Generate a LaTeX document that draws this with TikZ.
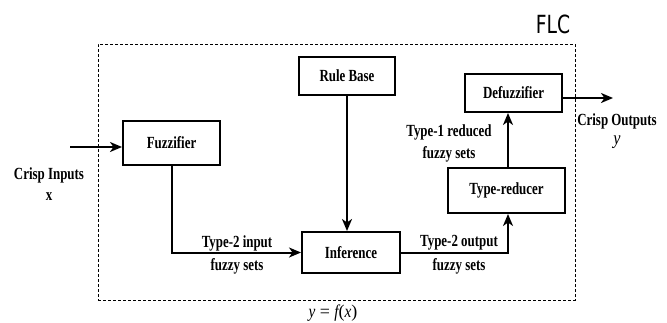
\documentclass[tikz,border=0pt]{standalone}
\usepackage{fontspec}
\setmainfont{Liberation Serif}
\newfontfamily\condbf[FakeStretch=0.76]{Liberation Serif Bold}
\newfontfamily\condit[FakeStretch=0.85]{Liberation Serif Italic}
\newfontfamily\flcfont[FakeStretch=0.75]{DejaVu Sans}
\usetikzlibrary{arrows.meta,calc}
\begin{document}
\begin{tikzpicture}[x=1pt,y=-1pt,
  blk/.style={draw, line width=2pt, minimum width=#1, inner sep=0pt, font=\condbf\fontsize{17}{17}\selectfont},
  conn/.style={line width=2pt, -{Stealth[length=12pt,width=10pt,inset=3.5pt]}},
  lbl/.style={font=\condbf\fontsize{17}{17}\selectfont, align=center, inner sep=0pt}]
\useasboundingbox (0,0) rectangle (667,322);
\node[draw, line width=0.9pt, dash pattern=on 3pt off 2pt, minimum width=477pt, minimum height=256pt, inner sep=0pt] (flcbox) at (336.5,172) {};
\node[font=\flcfont\fontsize{25}{25}\selectfont, inner sep=0pt] (flc) at (553,24) {FLC};
\node[blk=97pt, minimum height=44pt] (fuzz) at (171.5,143) {Fuzzifier};
\node[blk=96pt, minimum height=38pt] (rule) at (347,76) {Rule Base};
\node[blk=98pt, minimum height=41pt] (inf) at (351,252.5) {Inference};
\node[blk=97pt, minimum height=38pt] (defuzz) at (513.5,93) {Defuzzifier};
\node[blk=117pt, minimum height=45pt] (tr) at (506.5,190.5) {Type-reducer};
\coordinate (in) at (70,147);
\coordinate (out) at (613,98);
\draw[conn] (in) -- (in -| fuzz.west);
\draw[conn] (fuzz.south) |- (inf.west);
\draw[conn] (rule.south) -- (rule.south |- inf.north);
\draw[conn] (inf.east) -| ($(tr.south)+(1.5,0)$);
\draw[conn] ($(tr.north)+(1.5,0)$) -- ($(tr.north |- defuzz.south)+(1.5,0)$);
\draw[conn] (defuzz.east |- out) -- (out);
\node[lbl] (cin) at (49,175) {Crisp Inputs};
\node[lbl] (cinx) at (49,197) {x};
\node[lbl] (cout) at (617,121) {Crisp Outputs};
\node[inner sep=0pt, font=\condit\fontsize{19}{19}\selectfont] (couty) at (617,142) {y};
\node[lbl] (l1a) at (237,243) {Type-2 input};
\node[lbl] (l1b) at (237,266) {fuzzy sets};
\node[lbl] (l2a) at (459,243) {Type-2 output};
\node[lbl] (l2b) at (459,266) {fuzzy sets};
\node[lbl] (l3a) at (449,132) {Type-1 reduced};
\node[lbl] (l3b) at (449,154) {fuzzy sets};
\node[inner sep=0pt, font=\fontsize{18}{18}\selectfont] (yfx) at (333,313) {{\condit y} = {\condit f}({\condit x})};
\end{tikzpicture}
\end{document}
